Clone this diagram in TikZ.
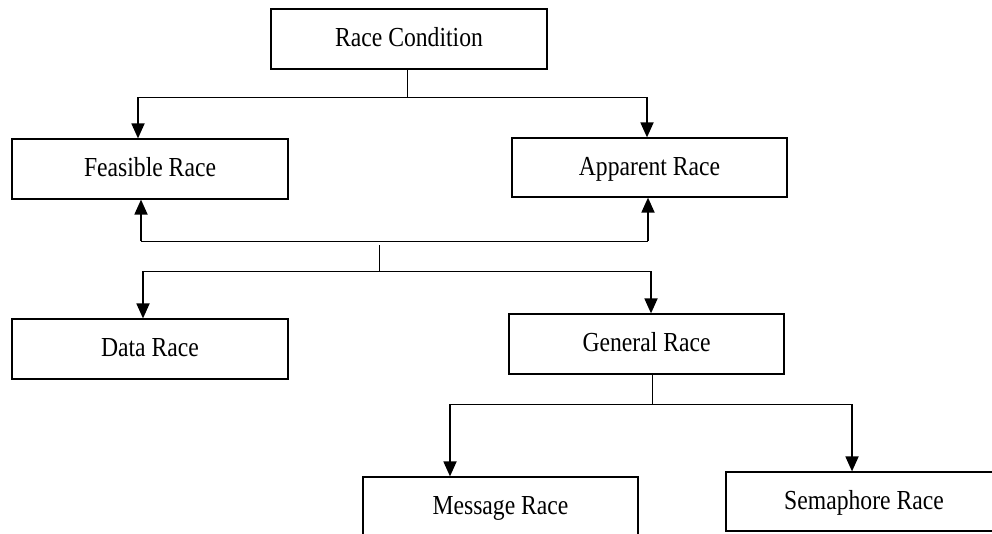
\documentclass[tikz,border=0pt]{standalone}
\usepackage{fontspec}
\setmainfont{Liberation Serif}[FakeStretch=0.86]
\usetikzlibrary{arrows.meta}

\tikzset{
  racebox/.style={draw, line width=1.2pt, inner sep=0pt,
    font=\fontsize{27.5}{30}\selectfont,
    text height=19pt, text depth=4pt},
  link/.style={line width=0.9pt},
  arr/.style={line width=1.8pt, -{Triangle[width=13pt,length=15pt]}},
}

\begin{document}
\begin{tikzpicture}[x=1pt,y=-1pt]
  \clip (0,0) rectangle (992,533);

  % classification boxes
  \node[racebox, minimum width=276, minimum height=60] (rc) at (409,39)   {Race Condition};
  \node[racebox, minimum width=276, minimum height=60] (fr) at (150,169)  {Feasible Race};
  \node[racebox, minimum width=275, minimum height=59] (ar) at (649.5,167.5) {Apparent Race};
  \node[racebox, minimum width=276, minimum height=60] (dr) at (150,349)  {Data Race};
  \node[racebox, minimum width=275, minimum height=60] (gr) at (646.5,344) {General Race};
  \node[racebox, minimum width=275, minimum height=60] (mr) at (500.5,507) {Message Race};
  \node[racebox, minimum width=276, minimum height=59] (sr) at (864,501.5) {Semaphore Race};

  % junction points
  \coordinate (t1) at (407,97);
  \coordinate (tl) at (138,97);
  \coordinate (tr) at (647,97);
  \coordinate (ul) at (141,241);
  \coordinate (ur) at (648,241);
  \coordinate (s1) at (379,245);
  \coordinate (s2) at (379,271);
  \coordinate (ml) at (143,271);
  \coordinate (mrr) at (651,271);
  \coordinate (b1) at (652,404);
  \coordinate (bl) at (450,404);
  \coordinate (br) at (852,404);

  % Race Condition splits into feasible and apparent races
  \draw[link] (rc.south -| t1) -- (t1);
  \draw[link] (tl) -- (tr);
  \draw[arr] (tl) -- (tl |- fr.north);
  \draw[arr] (tr) -- (tr |- ar.north);

  % shared link back up to both kinds
  \draw[link] (ul) -- (ur);
  \draw[arr] (ul) -- (ul |- fr.south);
  \draw[arr] (ur) -- (ur |- ar.south);

  % data race and general race
  \draw[link] (s1) -- (s2);
  \draw[link] (ml) -- (mrr);
  \draw[arr] (ml) -- (ml |- dr.north);
  \draw[arr] (mrr) -- (mrr |- gr.north);

  % general race splits into message and semaphore races
  \draw[link] (gr.south -| b1) -- (b1);
  \draw[link] (bl) -- (br);
  \draw[arr] (bl) -- (bl |- mr.north);
  \draw[arr] (br) -- (br |- sr.north);
\end{tikzpicture}
\end{document}
